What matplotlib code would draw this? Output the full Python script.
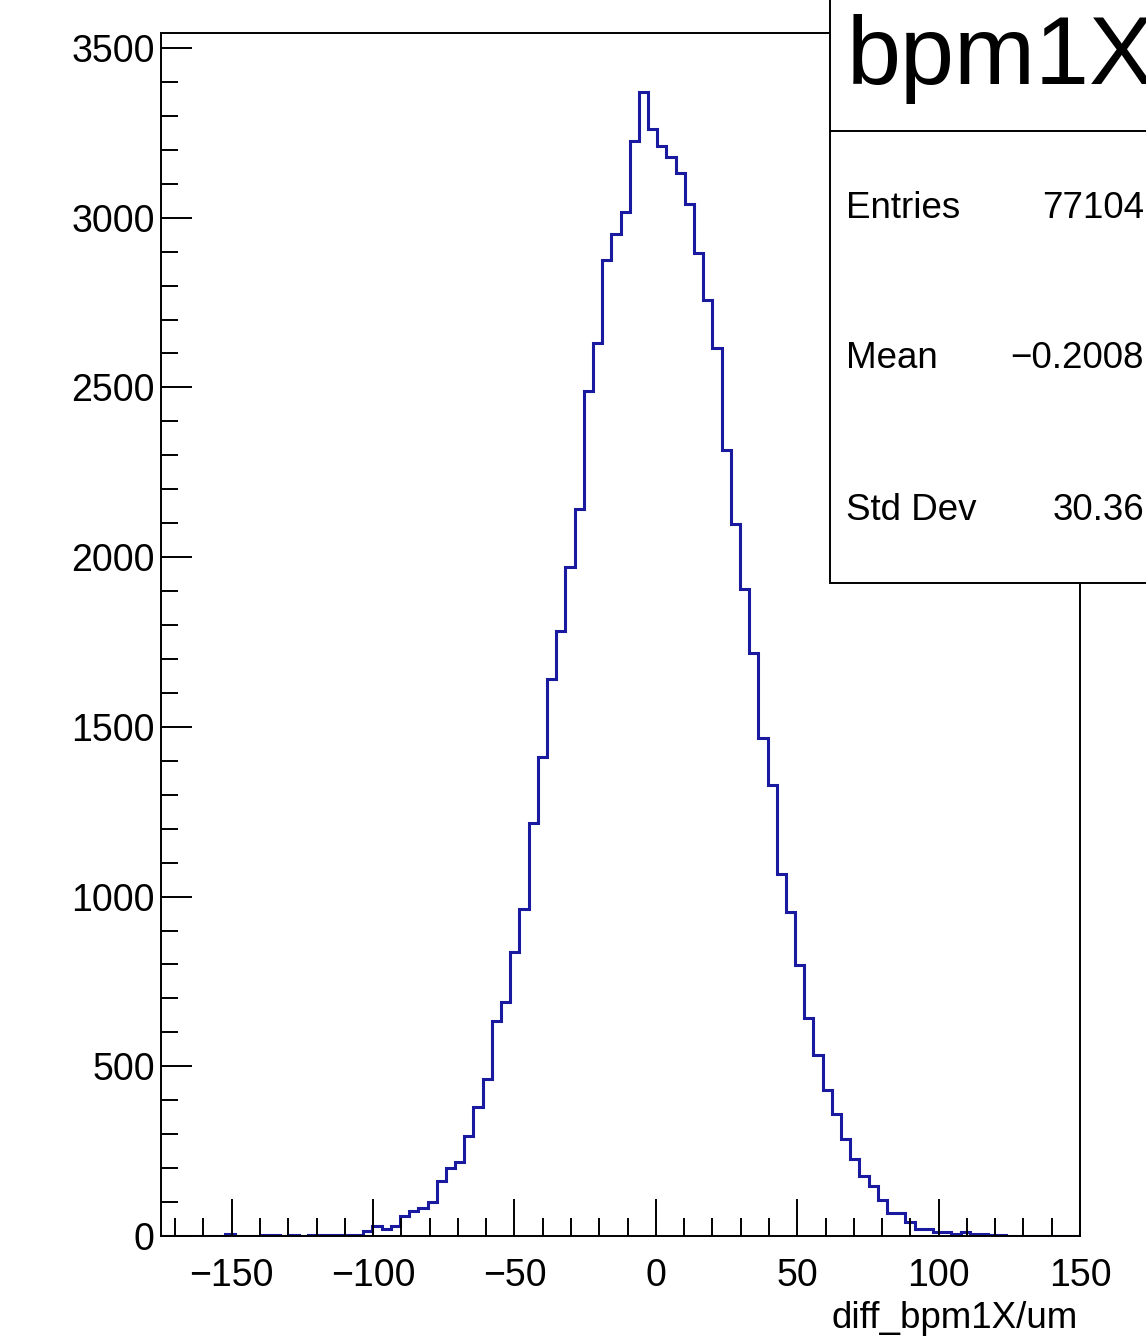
import numpy as np
import matplotlib.pyplot as plt
from matplotlib.patches import Rectangle
from matplotlib.ticker import MultipleLocator

plt.rcParams['font.family'] = ['Liberation Sans', 'DejaVu Sans']

# histogram: 100 bins from -175 to 150
x_low, x_high, nbins = -175, 150, 100
counts = [0, 0, 0, 0, 0, 0, 0, 5, 0, 0,
          0, 4, 4, 0, 4, 0, 4, 4, 4, 4,
          4, 4, 15, 30, 21, 28, 60, 75, 83, 100,
          162, 201, 218, 295, 381, 462, 634, 689, 838, 963,
          1216, 1412, 1640, 1781, 1970, 2143, 2490, 2630, 2874, 2952,
          3016, 3227, 3369, 3260, 3212, 3180, 3133, 3040, 2897, 2758,
          2616, 2316, 2098, 1907, 1719, 1468, 1328, 1066, 956, 799,
          641, 532, 429, 360, 287, 226, 178, 147, 107, 69,
          69, 42, 20, 20, 13, 12, 5, 12, 5, 5,
          4, 4, 0, 0, 0, 0, 0, 0, 0, 0]
title = "bpm1X"
xlabel = "diff_bpm1X/um"
stat_names = ["Entries", "Mean", "Std Dev"]
stat_values = ["77104", "\u22120.2008", "30.36"]

W, H = 1146, 1339
fig = plt.figure(figsize=(W / 100, H / 100), dpi=100)
ax = fig.add_axes([161 / W, 1 - 1236 / H, (1080 - 161) / W, (1236 - 33) / H])

edges = np.linspace(x_low, x_high, nbins + 1)
ax.stairs(counts, edges, color='#1a1aa0', lw=2.2)

ax.set_xlim(x_low, x_high)
ax.set_ylim(0, max(counts) * 1.052)
ax.xaxis.set_major_locator(MultipleLocator(50))
ax.xaxis.set_minor_locator(MultipleLocator(10))
ax.yaxis.set_major_locator(MultipleLocator(500))
ax.yaxis.set_minor_locator(MultipleLocator(100))

for s in ax.spines.values():
    s.set_linewidth(1.4)
ax.tick_params(axis='x', which='major', direction='in', length=26.5, width=1.4, pad=16, labelsize=27)
ax.tick_params(axis='x', which='minor', direction='in', length=13, width=1.4)
ax.tick_params(axis='y', which='major', direction='in', length=22, width=1.4, pad=4.5, labelsize=27)
ax.tick_params(axis='y', which='minor', direction='in', length=12, width=1.4)

fig.text(1078 / W, 1 - 1318 / H, xlabel, ha='right', va='center', fontsize=26.5)

# stats box (extends past the figure edge like the original)
box = Rectangle((830 / W, 1 - 583 / H), 400 / W, 700 / H, transform=fig.transFigure,
                facecolor='white', edgecolor='black', lw=1.4, zorder=5)
fig.add_artist(box)
fig.add_artist(plt.Line2D([830 / W, 1.2], [1 - 131 / H, 1 - 131 / H], transform=fig.transFigure,
                          color='black', lw=1.4, zorder=6))
fig.text(847 / W, 1 - 84 / H, title, ha='left', va='baseline', fontsize=70, zorder=7)
for name, val, yc in zip(stat_names, stat_values, [209, 359, 511]):
    fig.text(846 / W, 1 - yc / H, name, ha='left', va='center', fontsize=26.5, zorder=7)
    fig.text(1144 / W, 1 - yc / H, val, ha='right', va='center', fontsize=26.5, zorder=7)

fig.savefig('out.png', dpi=100)
